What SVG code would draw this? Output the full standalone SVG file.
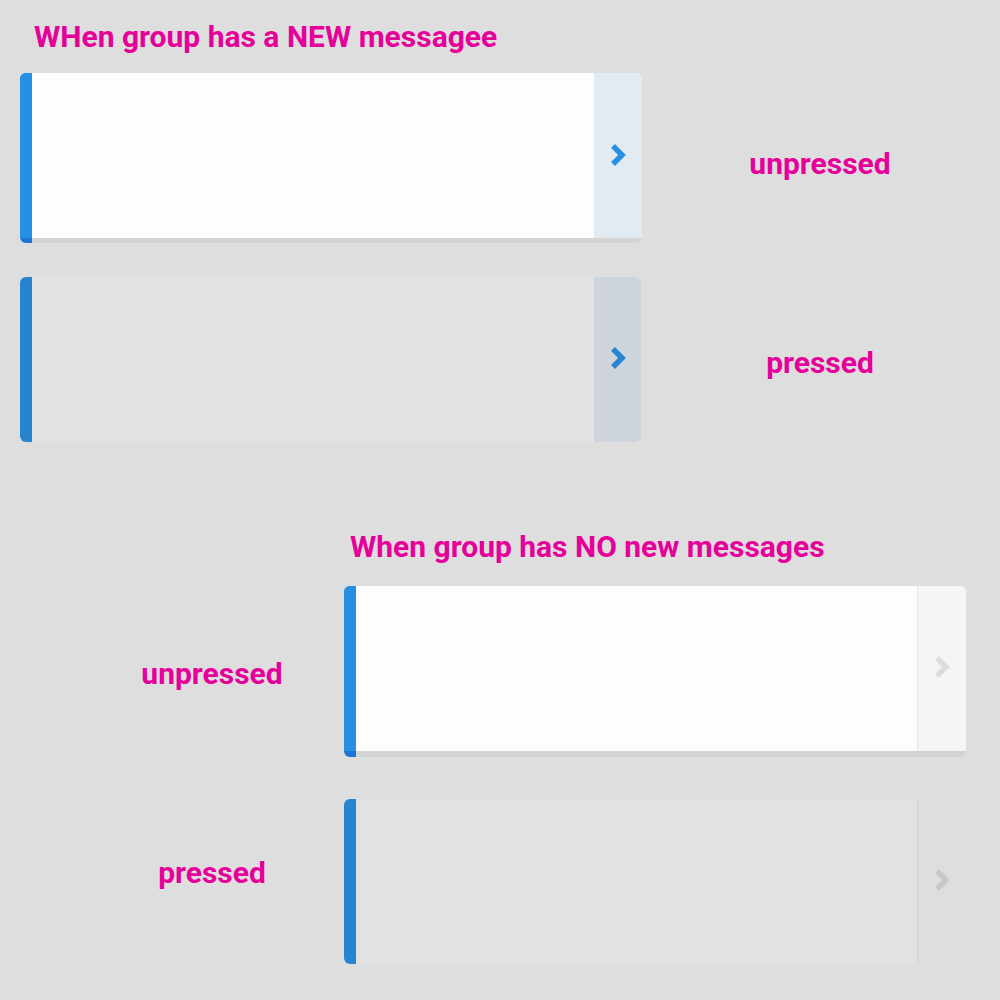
<svg xmlns="http://www.w3.org/2000/svg" width="1000" height="1000" viewBox="0 0 1000 1000">
<defs>
<style>
.lbl{font-family:Roboto,"Liberation Sans",sans-serif;font-weight:700;fill:#E6009A;font-size:30px}
.mid{text-anchor:middle}
.chev{fill:none;stroke-width:5.5;stroke-linejoin:miter}
</style>
<clipPath id="c1"><rect x="20" y="73" width="622" height="170" rx="6"/></clipPath>
<clipPath id="c2"><rect x="20" y="277" width="621" height="165" rx="6"/></clipPath>
<clipPath id="c3"><rect x="344" y="586" width="622" height="171" rx="6"/></clipPath>
<clipPath id="c4"><rect x="344" y="799" width="621" height="165" rx="6"/></clipPath>
</defs>
<rect width="1000" height="1000" fill="#DEDEDE"/>
<text class="lbl" x="34" y="47">WHen group has a NEW messagee</text>
<text class="lbl" x="350" y="557">When group has NO new messages</text>

<g id="card1">
<g clip-path="url(#c1)">
<rect x="20" y="73" width="622" height="170" fill="#D4D4D4"/>
<rect x="20" y="73" width="622" height="165" fill="#FDFDFD"/>
<rect x="594" y="73" width="48" height="165" fill="#E3EBF2"/>
<rect x="20" y="73" width="12" height="170" fill="#1976D2"/>
<rect x="20" y="73" width="12" height="165" fill="#2790E2"/>
</g>
<path class="chev" d="M613,146 L622,155 L613,164" stroke="#2790E2"/>
</g>
<text class="lbl mid" x="820" y="174">unpressed</text>

<g id="card2">
<g clip-path="url(#c2)">
<rect x="20" y="277" width="621" height="165" fill="#E2E2E2"/>
<rect x="594" y="277" width="47" height="165" fill="#CDD4DB"/>
<rect x="20" y="277" width="12" height="165" fill="#2684D0"/>
</g>
<path class="chev" d="M613,349 L622,358 L613,367" stroke="#2684D0"/>
</g>
<text class="lbl mid" x="820" y="373">pressed</text>

<g id="card3">
<g clip-path="url(#c3)">
<rect x="344" y="586" width="622" height="171" fill="#D4D4D4"/>
<rect x="344" y="586" width="622" height="165" fill="#FDFDFD"/>
<rect x="918" y="586" width="48" height="165" fill="#F5F5F5"/>
<rect x="917" y="586" width="1" height="165" fill="#E6E6E6"/>
<rect x="344" y="586" width="12" height="171" fill="#1976D2"/>
<rect x="344" y="586" width="12" height="165" fill="#2790E2"/>
</g>
<path class="chev" d="M937,658 L946,667 L937,676" stroke="#DCDCDC"/>
</g>
<text class="lbl mid" x="212" y="684">unpressed</text>

<g id="card4">
<g clip-path="url(#c4)">
<rect x="344" y="799" width="621" height="165" fill="#E2E2E2"/>
<rect x="918" y="799" width="47" height="165" fill="#DEDEDE"/>
<rect x="917" y="799" width="1" height="165" fill="#D4D4D4"/>
<rect x="344" y="799" width="12" height="165" fill="#2684D0"/>
</g>
<path class="chev" d="M937,871 L946,880 L937,889" stroke="#C8C8C8"/>
</g>
<text class="lbl mid" x="212" y="883">pressed</text>
</svg>
